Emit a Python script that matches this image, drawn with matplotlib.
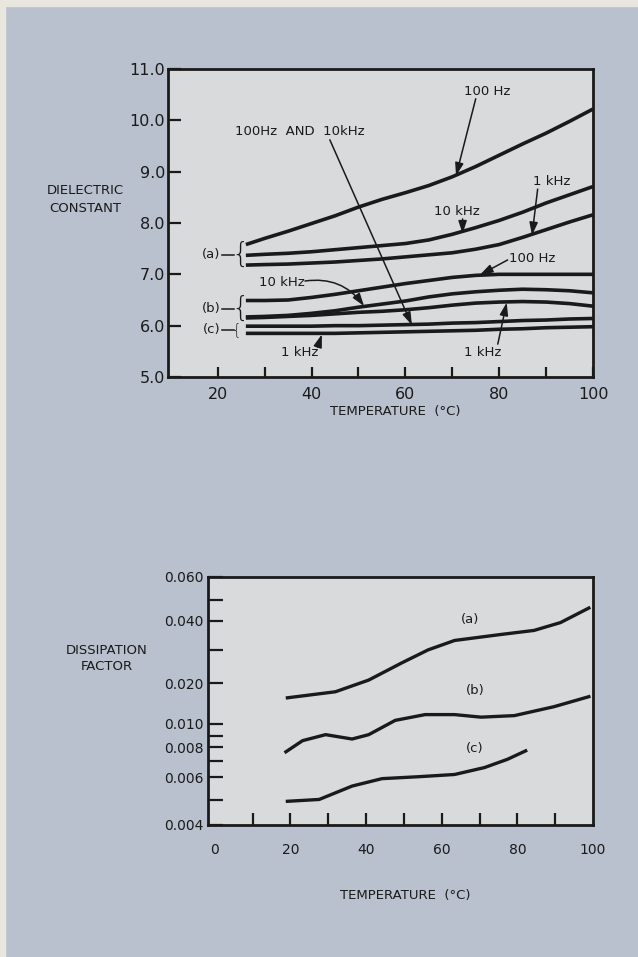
import numpy as np
import matplotlib.pyplot as plt

plt.rcParams['font.family'] = ['DejaVu Sans']

# ---- data: dielectric constant vs temperature ----
temp_top = [26, 30, 35, 40, 45, 50, 55, 60, 65, 70, 75, 80, 85, 90, 95, 100]
a_100hz = [7.58, 7.70, 7.84, 7.99, 8.14, 8.31, 8.46, 8.59, 8.73, 8.90, 9.10, 9.32, 9.54, 9.75, 9.98, 10.22]
a_10khz = [7.37, 7.39, 7.41, 7.44, 7.48, 7.52, 7.56, 7.60, 7.67, 7.78, 7.91, 8.05, 8.21, 8.39, 8.55, 8.71]
a_1khz = [7.18, 7.19, 7.20, 7.22, 7.24, 7.27, 7.30, 7.34, 7.38, 7.42, 7.49, 7.58, 7.72, 7.87, 8.02, 8.16]
b_100hz = [6.49, 6.49, 6.50, 6.55, 6.61, 6.68, 6.75, 6.82, 6.88, 6.94, 6.98, 7.00, 7.00, 7.00, 7.00, 7.00]
b_10khz = [6.17, 6.18, 6.20, 6.24, 6.29, 6.36, 6.42, 6.48, 6.56, 6.62, 6.66, 6.69, 6.71, 6.70, 6.68, 6.64]
b_1khz = [6.15, 6.16, 6.18, 6.20, 6.23, 6.26, 6.28, 6.31, 6.35, 6.40, 6.44, 6.46, 6.47, 6.46, 6.43, 6.38]
c_100hz_10khz = [5.99, 5.99, 5.99, 5.99, 6.00, 6.00, 6.01, 6.02, 6.03, 6.05, 6.06, 6.08, 6.10, 6.11, 6.13, 6.14]
c_1khz = [5.85, 5.85, 5.85, 5.85, 5.85, 5.86, 5.87, 5.88, 5.89, 5.90, 5.91, 5.93, 5.94, 5.96, 5.97, 5.98]

# ---- data: dissipation factor vs temperature ----
temp_a = [19.2, 31.9, 40.7, 49.4, 56.4, 63.4, 75.7, 84.4, 91.4, 98.9]
df_a = [0.0156, 0.0173, 0.0208, 0.0256, 0.0300, 0.0329, 0.0349, 0.0363, 0.0392, 0.0459]
temp_b = [18.8, 23.2, 29.3, 36.3, 40.7, 47.7, 55.6, 63.4, 70.4, 79.2, 89.7, 98.9]
df_b = [0.00765, 0.00856, 0.0091, 0.00871, 0.0091, 0.0106, 0.0117, 0.0117, 0.0112,
        0.0115, 0.0134, 0.0159]
temp_c = [19.2, 27.6, 36.3, 44.2, 53.8, 63.4, 71.3, 77.4, 82.2]
df_c = [0.00493, 0.00501, 0.00559, 0.00594, 0.00604, 0.00617, 0.00659, 0.00713, 0.00772]

# hand-drawn ordinate of the lower chart (value -> relative height)
scale_vals = [0.004, 0.005, 0.006, 0.007, 0.008, 0.009, 0.010, 0.020, 0.030, 0.040, 0.050, 0.060]
scale_pos = [0, 25, 47, 63, 77, 88, 100, 140, 173, 202, 222, 245]
df_major = [0.004, 0.006, 0.008, 0.010, 0.020, 0.040, 0.060]
df_major_lbl = ['0.004', '0.006', '0.008', '0.010', '0.020', '0.040', '0.060']
df_minor = [0.005, 0.007, 0.009, 0.030, 0.050]

BG = '#b9c1ce'
FACE = '#d8dadc'
INK = '#1a1a1a'

W, H = 638, 957
fig = plt.figure(figsize=(W / 100, H / 100), dpi=100, facecolor=BG)


def fx(px):
    return px / W


def fy(py):
    return 1 - py / H


# cream paper edges
fig.patches.append(plt.Rectangle((0, fy(6)), 1, 6 / H, transform=fig.transFigure,
                                 color='#e8e6df', zorder=0))
fig.patches.append(plt.Rectangle((0, 0), 5 / W, 1, transform=fig.transFigure,
                                 color='#e8e6df', zorder=0))

# ================= top chart =================
ax = fig.add_axes([fx(168), fy(377), (593 - 168) / W, (377 - 69) / H])
ax.set_facecolor(FACE)
for s in ax.spines.values():
    s.set_linewidth(2)
    s.set_color(INK)

for ys in [a_100hz, a_10khz, a_1khz, b_100hz, b_10khz, b_1khz, c_100hz_10khz, c_1khz]:
    ax.plot(temp_top, ys, color=INK, lw=2.6, solid_capstyle='butt')

ax.set_xlim(9.4, 100)
ax.set_ylim(5.0, 11.0)
ax.set_xticks([20, 40, 60, 80, 100])
ax.set_xticks([30, 50, 70, 90], minor=True)
ax.set_yticks([5, 6, 7, 8, 9, 10, 11])
ax.set_yticklabels(['5.0', '6.0', '7.0', '8.0', '9.0', '10.0', '11.0'])
ax.tick_params(axis='both', which='both', direction='in', width=1.6, color=INK,
               labelsize=11.5, labelcolor=INK)
ax.tick_params(axis='x', which='both', length=7, pad=7)
ax.tick_params(axis='y', length=9, pad=2)

arr = dict(arrowstyle='-|>,head_length=0.55,head_width=0.18', color=INK, lw=1.1,
           shrinkA=0, shrinkB=0, mutation_scale=14)
tkw = dict(fontsize=9.5, color=INK, ha='center', va='center')

ax.text(77.4, 10.56, '100 Hz', **tkw)
ax.annotate('', xy=(70.8, 8.92), xytext=(75.0, 10.42), arrowprops=arr)
ax.text(37.5, 9.78, '100Hz  AND  10kHz', **tkw)
ax.annotate('', xy=(61.4, 6.01), xytext=(43.9, 9.62), arrowprops=arr)
ax.text(91.2, 8.80, '1 kHz', **tkw)
ax.annotate('', xy=(87.0, 7.76), xytext=(88.2, 8.66), arrowprops=arr)
ax.text(71.0, 8.22, '10 kHz', **tkw)
ax.annotate('', xy=(72.2, 7.79), xytext=(72.2, 8.08), arrowprops=arr)
ax.text(87.0, 7.30, '100 Hz', **tkw)
ax.annotate('', xy=(75.9, 6.99), xytext=(81.8, 7.28), arrowprops=arr)
ax.text(33.6, 6.85, '10 kHz', **tkw)
ax.annotate('', xy=(51.2, 6.38), xytext=(38.6, 6.87),
            arrowprops=dict(arr, connectionstyle='arc3,rad=-0.3'))
ax.text(37.5, 5.48, '1 kHz', **tkw)
ax.annotate('', xy=(42.2, 5.83), xytext=(41.3, 5.58), arrowprops=arr)
ax.text(76.5, 5.48, '1 kHz', **tkw)
ax.annotate('', xy=(81.6, 6.45), xytext=(79.7, 5.64), arrowprops=arr)

# group brackets
for lbl, ymid, size in [('(a)', 7.38, 20), ('(b)', 6.33, 20), ('(c)', 5.92, 11)]:
    ax.text(20.6, ymid, lbl, fontsize=9.5, color=INK, ha='right', va='center')
    ax.plot([20.9, 23.4], [ymid, ymid], color=INK, lw=1.1)
    ax.text(23.0, ymid, '{', fontsize=size, color=INK, ha='left', va='center',
            fontweight='light')

fig.text(fx(85), fy(190), 'DIELECTRIC', fontsize=9.5, color=INK, ha='center', va='center')
fig.text(fx(85), fy(208), 'CONSTANT', fontsize=9.5, color=INK, ha='center', va='center')
fig.text(fx(395), fy(412), 'TEMPERATURE  (°C)', fontsize=9.5, color=INK,
         ha='center', va='center')

# ================= bottom chart =================
LV = np.log(scale_vals)
SP = np.array(scale_pos, dtype=float)


def fwd(v):
    v = np.asarray(v, dtype=float)
    return np.interp(np.log(np.clip(v, 1e-9, None)), LV, SP)


def inv(p):
    return np.exp(np.interp(np.asarray(p, dtype=float), SP, LV))


bx = fig.add_axes([fx(208), fy(825), (593 - 208) / W, (825 - 577) / H])
bx.set_facecolor(FACE)
for s in bx.spines.values():
    s.set_linewidth(2)
    s.set_color(INK)
bx.set_yscale('function', functions=(fwd, inv))

bx.plot(temp_a, df_a, color=INK, lw=2.4)
bx.plot(temp_b, df_b, color=INK, lw=2.4)
bx.plot(temp_c, df_c, color=INK, lw=2.4)

bx.set_xlim(-1.8, 99.6)
bx.set_ylim(0.004, 0.060)
bx.xaxis.remove_overlapping_locs = False
bx.set_xticks([0, 20, 40, 60, 80, 100])
bx.set_xticks([10, 20, 30, 40, 50, 60, 70, 80, 90], minor=True)
bx.set_yticks(df_major)
bx.set_yticklabels(df_major_lbl)
bx.set_yticks(df_minor, minor=True)
bx.yaxis.set_minor_formatter(plt.NullFormatter())
bx.tick_params(axis='both', which='both', direction='in', width=1.6, color=INK,
               labelsize=10, labelcolor=INK)
bx.tick_params(axis='x', which='minor', length=9)
bx.tick_params(axis='x', which='major', length=0, pad=13)
bx.tick_params(axis='y', which='both', length=11, pad=3)

bx.text(67.5, 0.0405, '(a)', **tkw)
bx.text(68.8, 0.0178, '(b)', **tkw)
bx.text(68.8, 0.0079, '(c)', **tkw)

fig.text(fx(107), fy(650), 'DISSIPATION', fontsize=9.5, color=INK, ha='center', va='center')
fig.text(fx(107), fy(667), 'FACTOR', fontsize=9.5, color=INK, ha='center', va='center')
fig.text(fx(405), fy(895), 'TEMPERATURE  (°C)', fontsize=9.5, color=INK,
         ha='center', va='center')

fig.savefig('out.png', dpi=100, facecolor=BG)
